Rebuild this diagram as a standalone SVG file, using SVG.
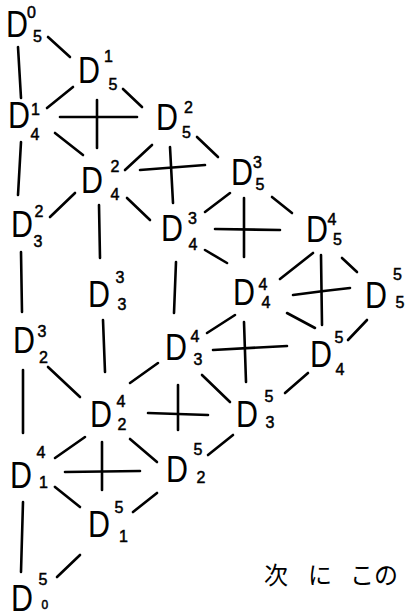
<svg xmlns="http://www.w3.org/2000/svg" width="407" height="616" viewBox="0 0 407 616">
<style>
.d{font-family:"Liberation Sans",Arial,sans-serif;font-size:36px;fill:#000}
.n{font-size:16px;stroke:#000;stroke-width:0.5}
.s{font-size:12px;stroke:#000;stroke-width:0.5}
.jp{font-family:"Noto Sans CJK JP",sans-serif;font-size:24px;fill:#000}
#edges line,#edges path{stroke:#000;stroke-width:2.6;stroke-linecap:round;fill:none}
</style>
<rect width="407" height="616" fill="#fff"/>
<g id="edges">
<line x1="48" y1="37" x2="70" y2="57"/>
<line x1="18" y1="47" x2="21" y2="98"/>
<line x1="73" y1="87" x2="47" y2="108"/>
<line x1="123" y1="89" x2="142" y2="107"/>
<line x1="60" y1="117" x2="137" y2="117"/>
<line x1="97" y1="100" x2="97" y2="148"/>
<line x1="55" y1="133" x2="83" y2="155"/>
<line x1="21" y1="142" x2="18" y2="195"/>
<line x1="152" y1="145" x2="125" y2="170"/>
<line x1="197" y1="137" x2="218" y2="157"/>
<line x1="140" y1="170" x2="205" y2="165"/>
<line x1="170" y1="147" x2="173" y2="203"/>
<line x1="75" y1="193" x2="50" y2="217"/>
<line x1="127" y1="198" x2="150" y2="220"/>
<line x1="99" y1="205" x2="100" y2="258"/>
<line x1="21" y1="252" x2="22" y2="312"/>
<line x1="176" y1="262" x2="174" y2="313"/>
<line x1="103" y1="320" x2="105" y2="372"/>
<line x1="48" y1="367" x2="80" y2="397"/>
<line x1="158" y1="363" x2="130" y2="383"/>
<line x1="23" y1="370" x2="23" y2="433"/>
<line x1="230" y1="193" x2="205" y2="212"/>
<line x1="272" y1="197" x2="292" y2="213"/>
<line x1="215" y1="229" x2="280" y2="230"/>
<line x1="244" y1="198" x2="244" y2="257"/>
<line x1="205" y1="250" x2="227" y2="263"/>
<line x1="313" y1="253" x2="280" y2="279"/>
<line x1="342" y1="258" x2="357" y2="272"/>
<path d="M293 295 Q322 291 350 288"/>
<line x1="321" y1="255" x2="322" y2="325"/>
<line x1="287" y1="313" x2="315" y2="328"/>
<line x1="367" y1="320" x2="348" y2="340"/>
<line x1="235" y1="315" x2="207" y2="333"/>
<line x1="244" y1="322" x2="246" y2="382"/>
<line x1="213" y1="350" x2="287" y2="346"/>
<line x1="202" y1="375" x2="230" y2="402"/>
<line x1="308" y1="373" x2="285" y2="393"/>
<line x1="148" y1="413" x2="208" y2="415"/>
<line x1="178" y1="385" x2="178" y2="430"/>
<line x1="233" y1="435" x2="208" y2="455"/>
<line x1="85" y1="437" x2="55" y2="458"/>
<line x1="130" y1="439" x2="157" y2="462"/>
<line x1="65" y1="472" x2="140" y2="471"/>
<line x1="102" y1="442" x2="102" y2="490"/>
<line x1="55" y1="487" x2="80" y2="507"/>
<line x1="157" y1="493" x2="133" y2="512"/>
<line x1="23" y1="502" x2="21" y2="572"/>
<line x1="80" y1="555" x2="57" y2="577"/>
</g>
<g id="D5_0"><text class="d"><tspan x="6" y="37" textLength="22" lengthAdjust="spacingAndGlyphs">D</tspan><tspan class="n" x="27" y="18">0</tspan><tspan class="n" x="33" y="42">5</tspan></text></g>
<g id="D5_1"><text class="d"><tspan x="78" y="83" textLength="22" lengthAdjust="spacingAndGlyphs">D</tspan><tspan class="n" x="104" y="62">1</tspan><tspan class="n" x="108.5" y="90">5</tspan></text></g>
<g id="D4_1"><text class="d"><tspan x="8" y="128" textLength="22" lengthAdjust="spacingAndGlyphs">D</tspan><tspan class="n" x="31" y="115">1</tspan><tspan class="n" x="30.5" y="140">4</tspan></text></g>
<g id="D5_2"><text class="d"><tspan x="156" y="130" textLength="22" lengthAdjust="spacingAndGlyphs">D</tspan><tspan class="n" x="184" y="113">2</tspan><tspan class="n" x="182" y="138">5</tspan></text></g>
<g id="D4_2"><text class="d"><tspan x="81" y="193" textLength="22" lengthAdjust="spacingAndGlyphs">D</tspan><tspan class="n" x="110.5" y="172">2</tspan><tspan class="n" x="110.5" y="200">4</tspan></text></g>
<g id="D5_3"><text class="d"><tspan x="231" y="185" textLength="22" lengthAdjust="spacingAndGlyphs">D</tspan><tspan class="n" x="253" y="168">3</tspan><tspan class="n" x="255.5" y="190">5</tspan></text></g>
<g id="D4_3"><text class="d"><tspan x="161" y="241" textLength="22" lengthAdjust="spacingAndGlyphs">D</tspan><tspan class="n" x="188" y="224">3</tspan><tspan class="n" x="188.5" y="250">4</tspan></text></g>
<g id="D5_4"><text class="d"><tspan x="306" y="242" textLength="22" lengthAdjust="spacingAndGlyphs">D</tspan><tspan class="n" x="327.5" y="225">4</tspan><tspan class="n" x="333" y="245">5</tspan></text></g>
<g id="D3_2"><text class="d"><tspan x="11" y="237" textLength="22" lengthAdjust="spacingAndGlyphs">D</tspan><tspan class="n" x="34.5" y="217">2</tspan><tspan class="n" x="33.5" y="247">3</tspan></text></g>
<g id="D3_3"><text class="d"><tspan x="88" y="307" textLength="22" lengthAdjust="spacingAndGlyphs">D</tspan><tspan class="n" x="115.5" y="283">3</tspan><tspan class="n" x="117.5" y="310">3</tspan></text></g>
<g id="D4_4"><text class="d"><tspan x="233" y="305" textLength="22" lengthAdjust="spacingAndGlyphs">D</tspan><tspan class="n" x="258.5" y="290">4</tspan><tspan class="n" x="261.5" y="308">4</tspan></text></g>
<g id="D5_5"><text class="d"><tspan x="365" y="308" textLength="22" lengthAdjust="spacingAndGlyphs">D</tspan><tspan class="n" x="393" y="280">5</tspan><tspan class="n" x="395.5" y="308">5</tspan></text></g>
<g id="D2_3"><text class="d"><tspan x="13" y="353" textLength="22" lengthAdjust="spacingAndGlyphs">D</tspan><tspan class="n" x="37.5" y="337">3</tspan><tspan class="n" x="39" y="363">2</tspan></text></g>
<g id="D3_4"><text class="d"><tspan x="165" y="360" textLength="22" lengthAdjust="spacingAndGlyphs">D</tspan><tspan class="n" x="190.5" y="342">4</tspan><tspan class="n" x="193.5" y="365">3</tspan></text></g>
<g id="D4_5"><text class="d"><tspan x="310" y="367" textLength="22" lengthAdjust="spacingAndGlyphs">D</tspan><tspan class="n" x="334.5" y="343">5</tspan><tspan class="n" x="335.5" y="375">4</tspan></text></g>
<g id="D2_4"><text class="d"><tspan x="90" y="427" textLength="22" lengthAdjust="spacingAndGlyphs">D</tspan><tspan class="n" x="116.5" y="407">4</tspan><tspan class="n" x="117.5" y="430">2</tspan></text></g>
<g id="D3_5"><text class="d"><tspan x="236" y="427" textLength="22" lengthAdjust="spacingAndGlyphs">D</tspan><tspan class="n" x="264.5" y="402">5</tspan><tspan class="n" x="265.5" y="428">3</tspan></text></g>
<g id="D1_4"><text class="d"><tspan x="10" y="488" textLength="22" lengthAdjust="spacingAndGlyphs">D</tspan><tspan class="n" x="36.5" y="458">4</tspan><tspan class="n" x="39" y="488">1</tspan></text></g>
<g id="D2_5"><text class="d"><tspan x="166" y="482" textLength="22" lengthAdjust="spacingAndGlyphs">D</tspan><tspan class="n" x="193.5" y="455">5</tspan><tspan class="n" x="196.5" y="483">2</tspan></text></g>
<g id="D1_5"><text class="d"><tspan x="88" y="537" textLength="22" lengthAdjust="spacingAndGlyphs">D</tspan><tspan class="n" x="114.5" y="513">5</tspan><tspan class="n" x="119" y="542">1</tspan></text></g>
<g id="D0_5"><text class="d"><tspan x="11" y="611" textLength="22" lengthAdjust="spacingAndGlyphs">D</tspan><tspan class="n" x="38.5" y="585">5</tspan><tspan class="s" x="41.5" y="609">0</tspan></text></g>
<g id="note"><text class="jp" y="584"><tspan x="264">次</tspan> <tspan x="308">に</tspan> <tspan x="350">この</tspan></text></g>
</svg>
